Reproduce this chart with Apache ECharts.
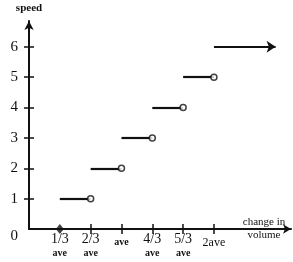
<!DOCTYPE html>
<html>
<head>
<meta charset="utf-8">
<script src="https://cdn.jsdelivr.net/npm/echarts@6/dist/echarts.min.js"></script>
<style>
  html, body { margin: 0; padding: 0; background: #fff; }
  #chart { width: 293px; height: 262px; }
</style>
</head>
<body>
<div id="chart"></div>
<script>
// x in thirds of "ave": 1 = 1/3 ave, 3 = ave, 6 = 2ave
const xTicks = [1, 2, 3, 4, 5, 6]
const xLabels = ['1/3', '2/3', 'ave', '4/3', '5/3', '2ave']
const yTicks = [0, 1, 2, 3, 4, 5, 6]
const stepStart = [1, 2, 3, 4, 5]
const stepEnd = [2, 3, 4, 5, 6]
const stepSpeed = [1, 2, 3, 4, 5]
const lastStep = [[6, 6], [8.0, 6]]

const ink = '#111'
const serif = 'Liberation Serif'

const steps = stepStart.map((s, i) => ({ coords: [[s, stepSpeed[i]], [stepEnd[i], stepSpeed[i]]] }))
const openEnds = stepEnd.map((e, i) => [e, stepSpeed[i]])

const xLabelFmt = (val) => {
  const i = xTicks.indexOf(val)
  const t = xLabels[i]
  if (t === 'ave') return '{s|ave}'
  if (t === '2ave') return '{t|2ave}'
  return '{f|' + t + '}\n{a|ave}'
}

const chart = echarts.init(document.getElementById('chart'))
chart.setOption({
  animation: false,
  grid: { left: 29, right: 2, top: 21, bottom: 33, containLabel: false, outerBoundsMode: 'none' },
  xAxis: [
    {
      type: 'value', min: 0, max: 8.5, position: 'bottom',
      name: 'change in\nvolume', nameLocation: 'end', nameGap: -27,
      nameTextStyle: { fontFamily: serif, fontSize: 11, color: ink, align: 'center', verticalAlign: 'middle', lineHeight: 13 },
      axisLine: { onZero: false, symbol: ['none', 'arrow'], symbolSize: [7, 8], lineStyle: { color: ink, width: 2 } },
      axisTick: { show: true, length: 5, customValues: [2, 3, 4, 5, 6], lineStyle: { color: ink, width: 1.5 } },
      axisLabel: {
        customValues: xTicks, margin: 3, color: ink, fontFamily: serif, formatter: xLabelFmt,
        rich: {
          f: { fontFamily: serif, fontSize: 14, lineHeight: 14, color: ink },
          a: { fontFamily: serif, fontSize: 10, lineHeight: 14, fontWeight: 'bold', color: ink },
          s: { fontFamily: serif, fontSize: 10, lineHeight: 10, fontWeight: 'bold', color: ink, padding: [10, 0, 0, 0] },
          t: { fontFamily: serif, fontSize: 12, lineHeight: 12, color: ink, padding: [10, 0, 0, 0] },
        },
      },
      splitLine: { show: false },
    },
    {
      type: 'value', min: 0, max: 8.5, position: 'bottom',
      axisLine: { show: false, onZero: false },
      axisTick: { show: true, inside: true, length: 5, customValues: [2, 3, 4, 5, 6], lineStyle: { color: ink, width: 1.5 } },
      axisLabel: { show: false },
      splitLine: { show: false },
    },
  ],
  yAxis: [
    {
      type: 'value', min: 0, max: 6.85, position: 'left',
      name: 'speed', nameLocation: 'end', nameGap: 13,
      nameTextStyle: { fontFamily: serif, fontSize: 11, fontWeight: 'bold', color: ink, align: 'center', verticalAlign: 'middle' },
      axisLine: { onZero: false, symbol: ['none', 'arrow'], symbolSize: [7, 9], lineStyle: { color: ink, width: 2 } },
      axisTick: { show: true, length: 5, customValues: [1, 2, 3, 4, 5, 6], lineStyle: { color: ink, width: 1.5 } },
      axisLabel: {
        customValues: yTicks, margin: 11, color: ink, fontFamily: serif, fontSize: 15,
        formatter: (v) => (v === 0 ? '{z|0}' : String(v)),
        rich: { z: { fontFamily: serif, fontSize: 15, color: ink, padding: [14, 0, 0, 0] } },
      },
      splitLine: { show: false },
    },
    {
      type: 'value', min: 0, max: 6.85, position: 'left',
      axisLine: { show: false, onZero: false },
      axisTick: { show: true, inside: true, length: 5, customValues: [1, 2, 3, 4, 5, 6], lineStyle: { color: ink, width: 1.5 } },
      axisLabel: { show: false },
      splitLine: { show: false },
    },
  ],
  series: [
    {
      type: 'lines', coordinateSystem: 'cartesian2d',
      data: steps, symbol: 'none',
      lineStyle: { color: ink, width: 2.2, opacity: 1 },
    },
    {
      type: 'lines', coordinateSystem: 'cartesian2d',
      data: [{ coords: lastStep }], symbol: ['none', 'arrow'], symbolSize: 9,
      lineStyle: { color: ink, width: 2.2, opacity: 1 },
    },
    {
      type: 'scatter', data: openEnds, symbol: 'circle', symbolSize: 6,
      itemStyle: { color: '#fff', borderColor: ink, borderWidth: 1.5 }, z: 5,
    },
    {
      type: 'scatter', data: [[1, 0]], symbol: 'diamond', symbolSize: [8, 10],
      itemStyle: { color: ink }, z: 5,
    },
  ],
})
</script>
</body>
</html>
